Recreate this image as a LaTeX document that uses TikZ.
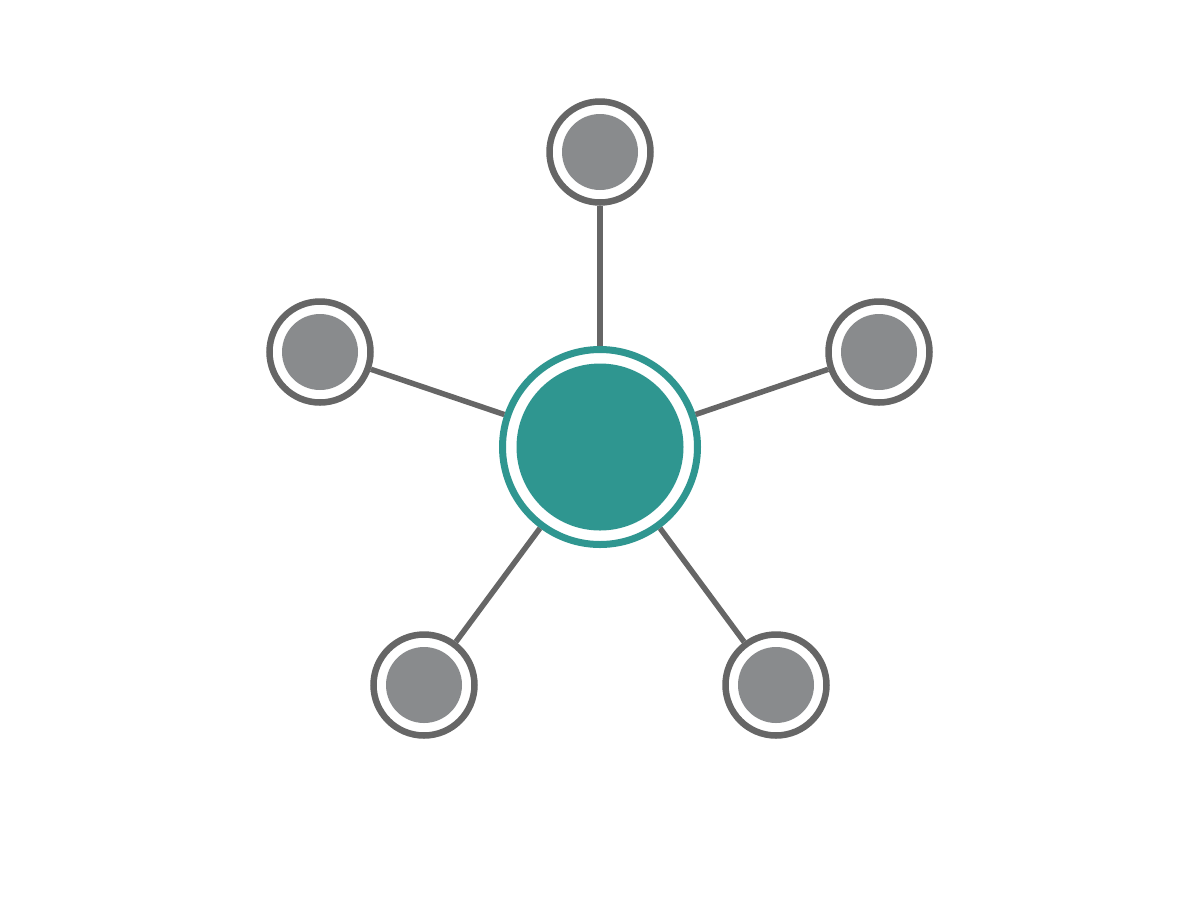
\documentclass[tikz,border=0pt]{standalone}
\usepackage{tikz}
\usetikzlibrary{positioning}
\definecolor{hubteal}{RGB}{47,150,144}
\definecolor{ringgray}{RGB}{102,102,102}
\definecolor{dotgray}{RGB}{137,139,141}

\begin{document}
\begin{tikzpicture}[
  x=0.5pt, y=-0.5pt,
  hub/.style={circle,draw=hubteal,line width=3.5pt,fill=white,inner sep=0pt,minimum size=97.5pt,
    path picture={\fill[hubteal] (path picture bounding box.center) circle (41.75pt);}},
  sat/.style={circle,draw=ringgray,line width=3.25pt,fill=white,inner sep=0pt,minimum size=50.5pt,
    path picture={\fill[dotgray] (path picture bounding box.center) circle (19pt);}}]
\useasboundingbox (0,0) rectangle (1200,896);
\node[hub] (hb) at (600,447) {};
\node[sat] (t) at (600,152) {};
\node[sat] (l) at (320,352) {};
\node[sat] (r) at (879,352) {};
\node[sat] (bl) at (424,685) {};
\node[sat] (br) at (776,685) {};

\path[draw,ringgray,line width=2.75pt]
  (hb) edge (t)
  (hb) edge (l)
  (hb) edge (r)
  (hb) edge (bl)
  (hb) edge (br);

\end{tikzpicture}
\end{document}
